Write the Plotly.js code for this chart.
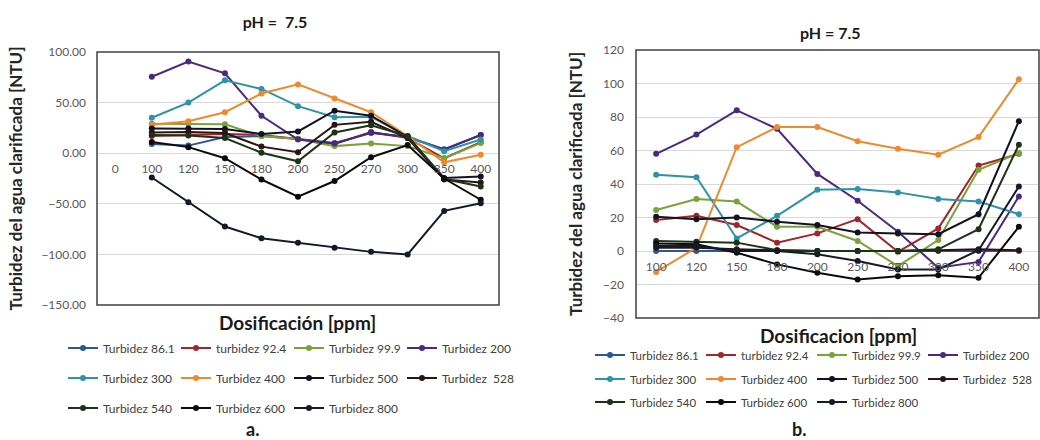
<!DOCTYPE html>
<html>
<head>
<meta charset="utf-8">
<script src="https://cdn.plot.ly/plotly-3.0.1.min.js"></script>
<style>
  html, body { margin: 0; padding: 0; background: #ffffff; }
  #chart { width: 1040px; height: 440px; }
</style>
</head>
<body>
<div id="chart"></div>
<script>
// ---------- DATA ----------
const leftCategories = ["0", "100", "120", "150", "180", "200", "250", "270", "300", "350", "400"];
const doses = ["100", "120", "150", "180", "200", "250", "270", "300", "350", "400"];
const seriesNames = ["Turbidez 86.1", "turbidez 92.4", "Turbidez 99.9", "Turbidez 200",
                     "Turbidez 300", "Turbidez 400", "Turbidez 500", "Turbidez  528",
                     "Turbidez 540", "Turbidez 600", "Turbidez 800"];

// Chart a. (values in NTU)
const a_t86_1 = [9, 7.5, 16, 17, 14, 10, 20, 16, 4, 18];
const a_t92_4 = [17, 18, 19, 18, 14, 9, 21, 15, -5, 11];
const a_t99_9 = [29, 29, 28.5, 17, 14, 7, 9.5, 7, -5, 10];
const a_t200  = [75.5, 90.5, 79, 37, 13.5, 9.5, 20.5, 16, 3.5, 18];
const a_t300  = [35, 50, 72, 63.5, 46.5, 35.5, 36, 17, 2, 13.5];
const a_t400  = [28, 31.5, 40.5, 59, 68, 54, 40.5, 17, -9, -1.5];
const a_t500  = [24.5, 24.5, 24, 19, 21.5, 42, 37, 16, -24.5, -23];
const a_t528  = [20.5, 21, 20, 6.5, 1, 28, 31, 15, -26, -29];
const a_t540  = [18, 17.5, 15, 0.5, -8, 20.5, 27.5, 17, -25.5, -33];
const a_t600  = [11, 6, -5, -26, -43, -27.5, -4, 8, -25, -46];
const a_t800  = [-24, -48.5, -72.5, -84, -88.5, -93.5, -97.5, -100, -57, -49.5];

// Chart b. (values in NTU)
const b_t86_1 = [0, 0, 0, 0, 0, 0, 0, 0, 0, 0];
const b_t92_4 = [18.5, 21, 15.5, 5, 10.5, 19, -0.5, 13.5, 51, 58];
const b_t99_9 = [24.5, 31, 29.5, 14.5, 14.5, 6, -9, 6.5, 48.5, 58.5];
const b_t200  = [58, 69.5, 84, 73, 46, 30, 11.5, -10, -6.5, 32.5];
const b_t300  = [45.5, 44, 7.5, 21, 36.5, 37, 35, 31, 29.5, 22];
const b_t400  = [-12.5, 2, 62, 74, 74, 65.5, 61, 57.5, 68, 102.5];
const b_t500  = [20.5, 19, 20, 17.5, 15.5, 11, 10.5, 10, 22, 77.5];
const b_t528  = [2, 2, 1, 0.5, 0, 0, 0, 0.5, 1, 0.5];
const b_t540  = [6, 5.5, 5, 0.5, 0, 0, 0, 1, 13, 63.5];
const b_t600  = [4.5, 4, -1, -8, -13, -17, -15, -14.5, -16, 14.5];
const b_t800  = [3, 3, 0, 0, -2, -6, -11, -11, 0.5, 38.5];

const aSeries = [a_t86_1, a_t92_4, a_t99_9, a_t200, a_t300, a_t400, a_t500, a_t528, a_t540, a_t600, a_t800];
const bSeries = [b_t86_1, b_t92_4, b_t99_9, b_t200, b_t300, b_t400, b_t500, b_t528, b_t540, b_t600, b_t800];

// ---------- STYLE ----------
const colors = ["#2E5597", "#A0262A", "#79A33A", "#4A2A7E", "#2E93A9", "#EE8A2E",
                "#121226", "#2B1510", "#1C3318", "#0A0A0A", "#141A2A"];
const FONT = "Lato, 'Open Sans', sans-serif";

function legendFor(i, side) {
  const row = i < 4 ? 0 : (i < 8 ? 1 : 2);
  const base = side === 'a' ? 1 : 4;
  const n = base + row;
  return n === 1 ? 'legend' : 'legend' + n;
}

const traces = [];
aSeries.forEach((vals, i) => {
  traces.push({
    type: 'scatter', mode: 'lines+markers', name: seriesNames[i],
    x: doses, y: vals, xaxis: 'x', yaxis: 'y',
    line: { color: colors[i], width: 2 },
    marker: { color: colors[i], size: 6 },
    legend: legendFor(i, 'a')
  });
});
bSeries.forEach((vals, i) => {
  traces.push({
    type: 'scatter', mode: 'lines+markers', name: seriesNames[i],
    x: doses, y: vals, xaxis: 'x2', yaxis: 'y2',
    line: { color: colors[i], width: 2 },
    marker: { color: colors[i], size: 6 },
    legend: legendFor(i, 'b')
  });
});

// Domains (paper fractions)
const aX = [97 / 1040, 499 / 1040], aY = [(440 - 305) / 440, (440 - 52) / 440];
const bX = [636 / 1040, 1039 / 1040], bY = [(440 - 318) / 440, (440 - 50) / 440];
const aRange = [-150, 100], bRange = [-40, 120];
const aZeroPos = aY[0] + (0 - aRange[0]) / (aRange[1] - aRange[0]) * (aY[1] - aY[0]);
const bZeroPos = bY[0] + (0 - bRange[0]) / (bRange[1] - bRange[0]) * (bY[1] - bY[0]);

const tickFont = { family: FONT, size: 12, color: '#595959' };
const yTitleFont = { family: FONT, size: 17, color: '#262626', weight: 'bold' };

function legendObj(x, yPix, ew, fs) {
  return {
    orientation: 'h', x: x, xanchor: 'left', y: 1 - yPix / 440, yanchor: 'middle',
    entrywidth: ew, entrywidthmode: 'pixels', bgcolor: 'rgba(0,0,0,0)', borderwidth: 0,
    font: { family: FONT, size: fs, color: '#404040' }, itemwidth: 30, tracegroupgap: 0
  };
}

const layout = {
  width: 1040, height: 440,
  margin: { l: 0, r: 0, t: 0, b: 0, autoexpand: false },
  paper_bgcolor: '#ffffff', plot_bgcolor: '#ffffff',
  font: { family: FONT },
  title: { text: 'pH =  7.5', x: 275 / 1040, xanchor: 'center', y: 1 - 22 / 440, yanchor: 'middle',
           font: { family: FONT, size: 16, color: '#1a1a1a', weight: 'bold' } },
  xaxis: {
    domain: aX, type: 'category', categoryorder: 'array', categoryarray: leftCategories,
    range: [-0.5, leftCategories.length - 0.5], anchor: 'free', position: aZeroPos,
    showgrid: false, showline: false, zeroline: false, ticks: '', tickmode: 'linear', tick0: 0, dtick: 1,
    tickfont: tickFont, ticklabelstandoff: 7
  },
  yaxis: {
    domain: aY, anchor: 'x', range: aRange, dtick: 50, tickformat: '.2f',
    showgrid: true, gridcolor: '#d9d9d9', gridwidth: 1, zeroline: false, showline: false, ticks: '',
    tickfont: tickFont, ticklabelstandoff: 10,
    title: { text: 'Turbidez del agua clarificada [NTU]', font: yTitleFont, standoff: 14 }
  },
  xaxis2: {
    domain: bX, type: 'category', categoryorder: 'array', categoryarray: doses,
    range: [-0.5, doses.length - 0.5], anchor: 'free', position: bZeroPos,
    showgrid: false, showline: false, zeroline: false, ticks: '', tickmode: 'linear', tick0: 0, dtick: 1,
    tickfont: tickFont, ticklabelstandoff: 7
  },
  yaxis2: {
    domain: bY, anchor: 'x2', range: bRange, dtick: 20,
    showgrid: true, gridcolor: '#d9d9d9', gridwidth: 1, zeroline: false, showline: false, ticks: '',
    tickfont: tickFont, ticklabelstandoff: 11,
    title: { text: 'Turbidez del agua clarificada [NTU]', font: yTitleFont, standoff: 16 }
  },
  shapes: [
    { type: 'rect', xref: 'x domain', yref: 'y domain', x0: 0, x1: 1, y0: 0, y1: 1,
      line: { color: '#404040', width: 1.5 }, layer: 'above' },
    { type: 'rect', xref: 'x2 domain', yref: 'y2 domain', x0: 0, x1: 1, y0: 0, y1: 1,
      line: { color: '#404040', width: 1.5 }, layer: 'above' }
  ],
  annotations: [
    { text: 'pH = 7.5', xref: 'paper', yref: 'paper', x: 830 / 1040, y: 1 - 33 / 440,
      xanchor: 'center', yanchor: 'middle', showarrow: false,
      font: { family: FONT, size: 16, color: '#1a1a1a', weight: 'bold' } },
    { text: 'Dosificación [ppm]', xref: 'paper', yref: 'paper', x: 297 / 1040, y: 1 - 322 / 440,
      xanchor: 'center', yanchor: 'middle', showarrow: false,
      font: { family: FONT, size: 19, color: '#1a1a1a', weight: 'bold' } },
    { text: 'Dosificacion [ppm]', xref: 'paper', yref: 'paper', x: 838 / 1040, y: 1 - 335 / 440,
      xanchor: 'center', yanchor: 'middle', showarrow: false,
      font: { family: FONT, size: 19, color: '#1a1a1a', weight: 'bold' } },
    { text: 'a.', xref: 'paper', yref: 'paper', x: 252 / 1040, y: 1 - 429 / 440,
      xanchor: 'center', yanchor: 'middle', showarrow: false,
      font: { family: FONT, size: 18, color: '#1a1a1a', weight: 'bold' } },
    { text: 'b.', xref: 'paper', yref: 'paper', x: 799 / 1040, y: 1 - 429 / 440,
      xanchor: 'center', yanchor: 'middle', showarrow: false,
      font: { family: FONT, size: 18, color: '#1a1a1a', weight: 'bold' } }
  ],
  legend:  legendObj(63 / 1040, 348, 68, 12),
  legend2: legendObj(63 / 1040, 378, 68, 12),
  legend3: legendObj(63 / 1040, 408, 68, 12),
  legend4: legendObj(590 / 1040, 355, 66, 11.5),
  legend5: legendObj(590 / 1040, 379, 66, 11.5),
  legend6: legendObj(590 / 1040, 402, 66, 11.5)
};

Plotly.newPlot('chart', traces, layout, { displayModeBar: false, staticPlot: true });
</script>
</body>
</html>
